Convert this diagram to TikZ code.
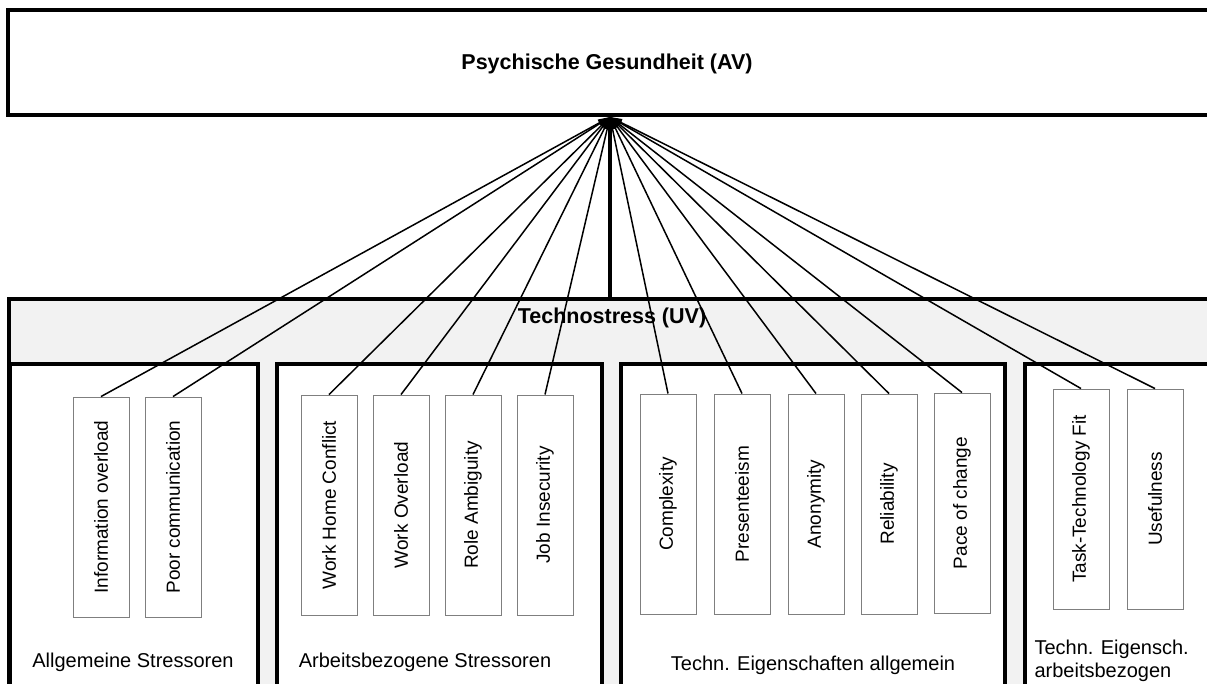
\documentclass[tikz,border=0pt]{standalone}
\usepackage{fontspec}
\setmainfont{Liberation Sans}
\usetikzlibrary{arrows.meta}

\definecolor{barfill}{HTML}{F2F2F2}
\definecolor{itemline}{HTML}{7F7F7F}

\begin{document}
\begin{tikzpicture}[x=1pt,y=-1pt,
    outer/.style={draw,line width=3.5pt},
    item/.style={draw=itemline,line width=0.9pt,fill=white,rotate=90,minimum width=220pt,minimum height=56pt,inner sep=0pt,font=\fontsize{19}{22}\selectfont},
    grouplabel/.style={font=\fontsize{20}{23}\selectfont},
    headlabel/.style={font=\fontsize{21.5}{24}\selectfont\bfseries},
    link/.style={line width=1.5pt,-{Triangle[length=12pt,width=7pt]}}]
  \useasboundingbox (0,0) rectangle (1207,684);
  % abhaengige Variable
  \draw[outer,fill=white] (8,10) rectangle (1240,115);
  \node[headlabel] (av) at (607,64) {Psychische Gesundheit (AV)};
  \coordinate (hub) at (610,117);
  % unabhaengige Variable
  \draw[outer,fill=barfill] (9,299) rectangle (1240,720);
  \coordinate (uvtop) at (610,299);
  \node[headlabel] (uv) at (612,318) {Technostress (UV)};
  \draw[outer,fill=white] (10,364) rectangle (258,720);
  \draw[outer,fill=white] (277,364) rectangle (602,720);
  \draw[outer,fill=white] (621,364) rectangle (1005,720);
  \draw[outer,fill=white] (1025,364) rectangle (1240,720);
  \node[grouplabel] (g1) at (133,662) {Allgemeine Stressoren};
  \node[grouplabel] (g2) at (425,662) {Arbeitsbezogene Stressoren};
  \node[grouplabel] (g3) at (813,665) {Techn. Eigenschaften allgemein};
  \node[grouplabel,anchor=west,align=left] (g4) at (1031,661) {Techn. Eigensch.\\arbeitsbezogen};
  % Stressoren
  \foreach \n/\x/\y/\t in {info/101/507/Information overload,
                           poor/173/507/Poor communication,
                           whc/329/505/Work Home Conflict,
                           wol/401/505/Work Overload,
                           rol/473/505/Role Ambiguity,
                           job/545/505/Job Insecurity,
                           cpx/668/504/Complexity,
                           pre/742/504/Presenteeism,
                           ano/816/504/Anonymity,
                           rel/889/504/Reliability,
                           pac/962/503/Pace of change,
                           ttf/1081/499/Task-Technology Fit,
                           use/1155/499/Usefulness}
  {
    \node[item] (\n) at (\x,\y) {\t};
    \draw[link] (\n.east) -- (hub);
  }
  \draw[line width=4pt,-{Triangle[length=12pt,width=9pt]}] (uvtop) -- (hub);
\end{tikzpicture}
\end{document}
